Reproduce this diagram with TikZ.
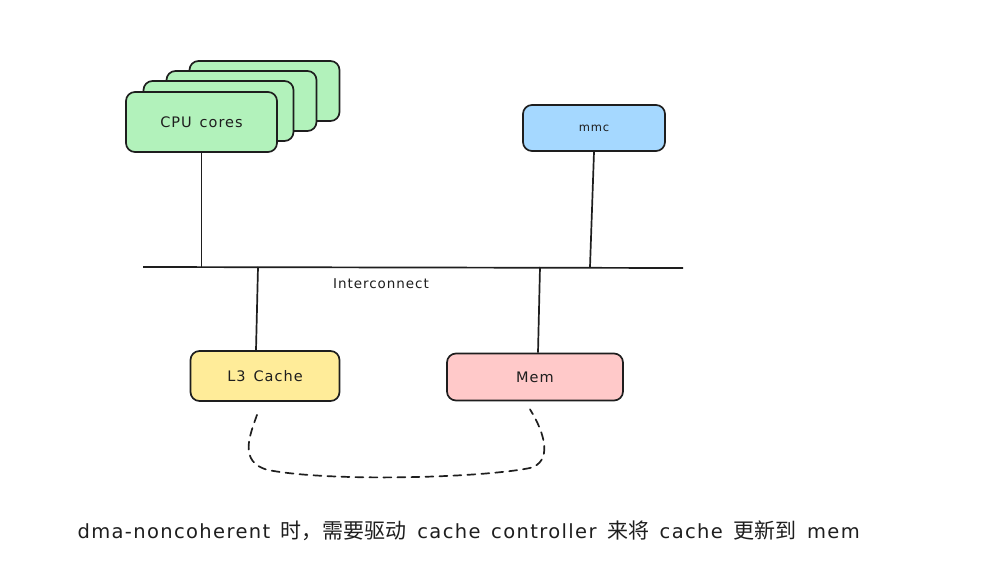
\documentclass[tikz,border=0pt]{standalone}
\usepackage{fontspec}
\setmainfont{DejaVu Sans}[LetterSpace=7, WordSpace=1.4]
\newfontfamily\cjk{Noto Sans CJK SC}
\definecolor{ink}{HTML}{1E1E1E}
\definecolor{cpufill}{HTML}{B2F2BB}
\definecolor{mmcfill}{HTML}{A5D8FF}
\definecolor{cachefill}{HTML}{FFEC99}
\definecolor{memfill}{HTML}{FFC9C9}
\newcommand{\zh}[1]{{\cjk\fontsize{21}{22}\selectfont #1}}
\tikzset{
  box/.style={draw=ink, line width=1.7pt, rounded corners=9pt, font=\fontsize{14.5}{16}\selectfont, text=ink},
  link/.style={draw=ink, line width=1.7pt},
}
\begin{document}
\begin{tikzpicture}[x=1pt, y=-1pt]
  \useasboundingbox[fill=white] (0,0) rectangle (985,564);
  % stacked cores, back to front
  \foreach \k/\dx/\dy in {4/63/-31, 3/40/-21, 2/17/-11}
    \node[box, fill=cpufill, minimum width=150pt, minimum height=60pt] (cpu\k) at (201.5+\dx,122+\dy) {};
  \node[box, fill=cpufill, minimum width=151pt, minimum height=60pt] (cpu) at (201.5,122) {CPU cores};
  \node[box, fill=mmcfill, minimum width=142pt, minimum height=46pt, font=\fontsize{11.5}{13}\selectfont] (mmc) at (594,128) {mmc};
  \node[box, fill=cachefill, minimum width=149pt, minimum height=50pt] (l3) at (265,376) {L3 Cache};
  \node[box, fill=memfill, minimum width=176pt, minimum height=47pt] (mem) at (535,377) {Mem};
  % bus
  \coordinate (busW) at (143,267);
  \coordinate (busE) at (683,268);
  \draw[link] (busW) -- (busE);
  \node[text=ink, font=\fontsize{13.5}{15}\selectfont] (bus) at (381,284) {Interconnect};
  \draw[link] (cpu.south) -- (cpu.south |- busW);
  \draw[link] (mmc.south) -- ([xshift=-4pt]mmc.south |- busW);
  \draw[link] ([xshift=-7pt]l3.north |- busW) -- ([xshift=-9pt]l3.north);
  \draw[link] ([xshift=5pt]mem.north |- busW) -- ([xshift=3pt]mem.north);
  % write-back path
  \draw[link, dash pattern=on 8pt off 6pt, line cap=round]
    ([xshift=-8pt,yshift=-13pt]l3.south)
    .. controls (250,435) and (238,462) .. (268,470)
    .. controls (330,482) and (480,478) .. (530,468)
    .. controls (552,462) and (546,435) .. ([xshift=-5pt,yshift=-8pt]mem.south);
  \node[anchor=west, text=ink, font=\fontsize{19.5}{22}\selectfont] (note) at (74,531)
    {dma-noncoherent \zh{时，需要驱动} cache controller \zh{来将} cache \zh{更新到} mem};
\end{tikzpicture}
\end{document}
